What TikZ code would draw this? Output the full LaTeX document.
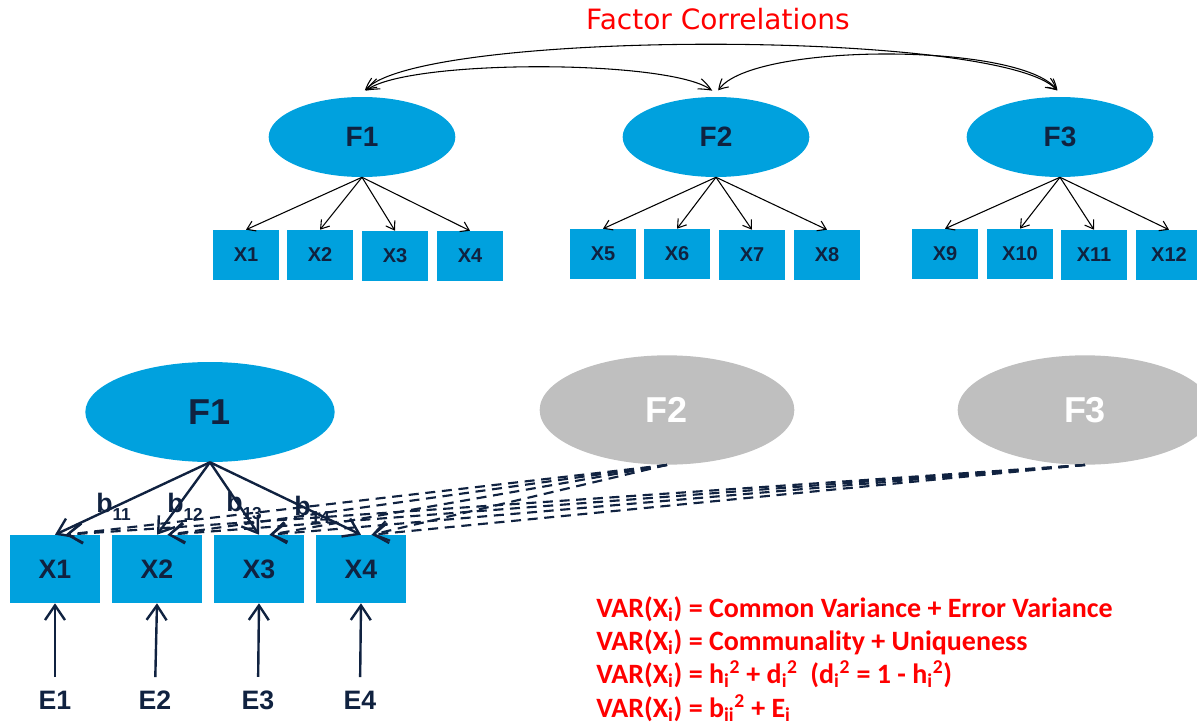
\documentclass[tikz,border=0pt]{standalone}
\usepackage{fontspec}
\setmainfont{Liberation Sans}
\newfontfamily\titlefont{DejaVu Sans}
\newfontfamily\notefont{Carlito}
\usetikzlibrary{shapes.geometric, arrows.meta, bending}
\definecolor{factorblue}{RGB}{0,161,222}
\definecolor{navy}{RGB}{16,34,64}
\definecolor{fadegray}{RGB}{191,191,191}
\newcommand{\bsub}[1]{b\raisebox{-6pt}{\fontsize{13}{13}\selectfont #1}}

\begin{document}
\begin{tikzpicture}[x=0.75pt, y=-0.75pt,
        factor/.style={ellipse, fill=factorblue, text=navy, inner sep=0pt, minimum width=140pt, minimum height=60pt, font=\fontsize{21}{21}\selectfont\bfseries},
        item/.style={rectangle, fill=factorblue, text=navy, inner sep=0pt, minimum width=49pt, minimum height=37.5pt, font=\fontsize{15}{15}\selectfont\bfseries},
        bigfactor/.style={ellipse, fill=factorblue, text=navy, inner sep=0pt, minimum width=187pt, minimum height=75pt, font=\fontsize{27}{27}\selectfont\bfseries},
        fadefactor/.style={ellipse, fill=fadegray, text=white, inner sep=0pt, minimum width=191pt, minimum height=82pt, font=\fontsize{27}{27}\selectfont\bfseries},
        bigitem/.style={rectangle, fill=factorblue, text=navy, inner sep=0pt, minimum width=68pt, minimum height=51pt, font=\fontsize{20}{20}\selectfont\bfseries},
        error/.style={text=navy, inner sep=0pt, font=\fontsize{20}{20}\selectfont\bfseries},
        loadlabel/.style={text=navy, inner sep=0pt, anchor=base west, font=\fontsize{20}{20}\selectfont\bfseries},
        corr/.style={{Straight Barb[length=6pt,width=8pt,bend]}-{Straight Barb[length=6pt,width=8pt,bend]}, line width=0.8pt, black, shorten >=5pt, shorten <=5pt},
        load/.style={-{Straight Barb[length=6pt,width=8pt]}, line width=0.8pt, black},
        bigload/.style={-{Straight Barb[length=11pt,width=15pt]}, line width=1.8pt, navy},
        crossload/.style={-{Straight Barb[length=11pt,width=15pt]}, line width=1.6pt, navy, dash pattern=on 7.5pt off 5pt}]
    \useasboundingbox (0,0) rectangle (1197,725);

    \node[text=red, font=\titlefont\fontsize{21}{21}\selectfont] (title) at (718,19) {Factor Correlations};

    \node[factor] (F1t) at (362,137) {F1};
    \node[factor] (F2t) at (716,137) {F2};
    \node[factor] (F3t) at (1060,137) {F3};

    \draw[corr] (F1t.north) .. controls +(12,-70) and +(-12,-70) .. (F3t.north);
    \draw[corr] (F1t.north) .. controls +(8,-40) and +(-8,-40) .. (F2t.north);
    \draw[corr] (F2t.north) .. controls +(8,-57) and +(-12,-57) .. (F3t.north);

    \node[item] (X1t) at (246,255) {X1};
    \node[item] (X2t) at (320,255) {X2};
    \node[item] (X3t) at (395,256) {X3};
    \node[item] (X4t) at (470,256) {X4};
    \node[item] (X5t) at (603,254) {X5};
    \node[item] (X6t) at (677,254) {X6};
    \node[item] (X7t) at (752,255) {X7};
    \node[item] (X8t) at (827,255) {X8};
    \node[item] (X9t) at (945,254) {X9};
    \node[item] (X10t) at (1020,254) {X10};
    \node[item] (X11t) at (1094,255) {X11};
    \node[item] (X12t) at (1169,255) {X12};

    \draw[load] (F1t.south) -- (X1t.north);
    \draw[load] (F1t.south) -- (X2t.north);
    \draw[load] (F1t.south) -- (X3t.north);
    \draw[load] (F1t.south) -- (X4t.north);
    \draw[load] (F2t.south) -- (X5t.north);
    \draw[load] (F2t.south) -- (X6t.north);
    \draw[load] (F2t.south) -- (X7t.north);
    \draw[load] (F2t.south) -- (X8t.north);
    \draw[load] (F3t.south) -- (X9t.north);
    \draw[load] (F3t.south) -- (X10t.north);
    \draw[load] (F3t.south) -- (X11t.north);
    \draw[load] (F3t.south) -- (X12t.north);

    \node[bigfactor] (F1b) at (210,412) {F1};
    \node[fadefactor] (F2b) at (667,410) {F2};
    \node[fadefactor] (F3b) at (1085,410) {F3};

    \node[bigitem] (X1b) at (55,569) {X1};
    \node[bigitem] (X2b) at (157,569) {X2};
    \node[bigitem] (X3b) at (259,569) {X3};
    \node[bigitem] (X4b) at (361,569) {X4};

    \draw[crossload] (F2b.south) -- ([xshift=8pt]X1b.north);
    \draw[crossload] (F2b.south) -- ([xshift=8pt]X2b.north);
    \draw[crossload] (F2b.south) -- ([xshift=8pt]X3b.north);
    \draw[crossload] (F2b.south) -- ([xshift=8pt]X4b.north);
    \draw[crossload] (F3b.south) -- ([xshift=8pt]X1b.north);
    \draw[crossload] (F3b.south) -- ([xshift=8pt]X2b.north);
    \draw[crossload] (F3b.south) -- ([xshift=8pt]X3b.north);
    \draw[crossload] (F3b.south) -- ([xshift=8pt]X4b.north);

    \draw[bigload] (F1b.south) -- (X1b.north);
    \draw[bigload] (F1b.south) -- (X2b.north);
    \draw[bigload] (F1b.south) -- (X3b.north);
    \draw[bigload] (F1b.south) -- (X4b.north);

    \node[loadlabel] (b11) at (96,512) {\bsub{11}};
    \node[loadlabel] (b12) at (167,512) {\bsub{12}};
    \node[loadlabel] (b13) at (226,511) {\bsub{13}};
    \node[loadlabel] (b14) at (294,515) {\bsub{14}};

    \node[error] (E1) at (55,700) {E1};
    \node[error] (E2) at (155,700) {E2};
    \node[error] (E3) at (258,700) {E3};
    \node[error] (E4) at (360,700) {E4};

    \draw[bigload, shorten <=10pt] (E1.north) -- (X1b.south);
    \draw[bigload, shorten <=10pt] (E2.north) -- (X2b.south);
    \draw[bigload, shorten <=10pt] (E3.north) -- (X3b.south);
    \draw[bigload, shorten <=10pt] (E4.north) -- (X4b.south);

    \node[anchor=north west, align=left, inner sep=0pt, text=red, font=\notefont\fontsize{21}{25}\selectfont\bfseries] (varnote) at (596,596)
        {VAR(X\textsubscript{i}) = Common Variance + Error Variance\\
         VAR(X\textsubscript{i}) = Communality + Uniqueness\\
         VAR(X\textsubscript{i}) = h\textsubscript{i}\textsuperscript{2} + d\textsubscript{i}\textsuperscript{2}~~(d\textsubscript{i}\textsuperscript{2} = 1 - h\textsubscript{i}\textsuperscript{2})\\
         VAR(X\textsubscript{i}) = b\textsubscript{ii}\textsuperscript{2} + E\textsubscript{i}};
\end{tikzpicture}
\end{document}
